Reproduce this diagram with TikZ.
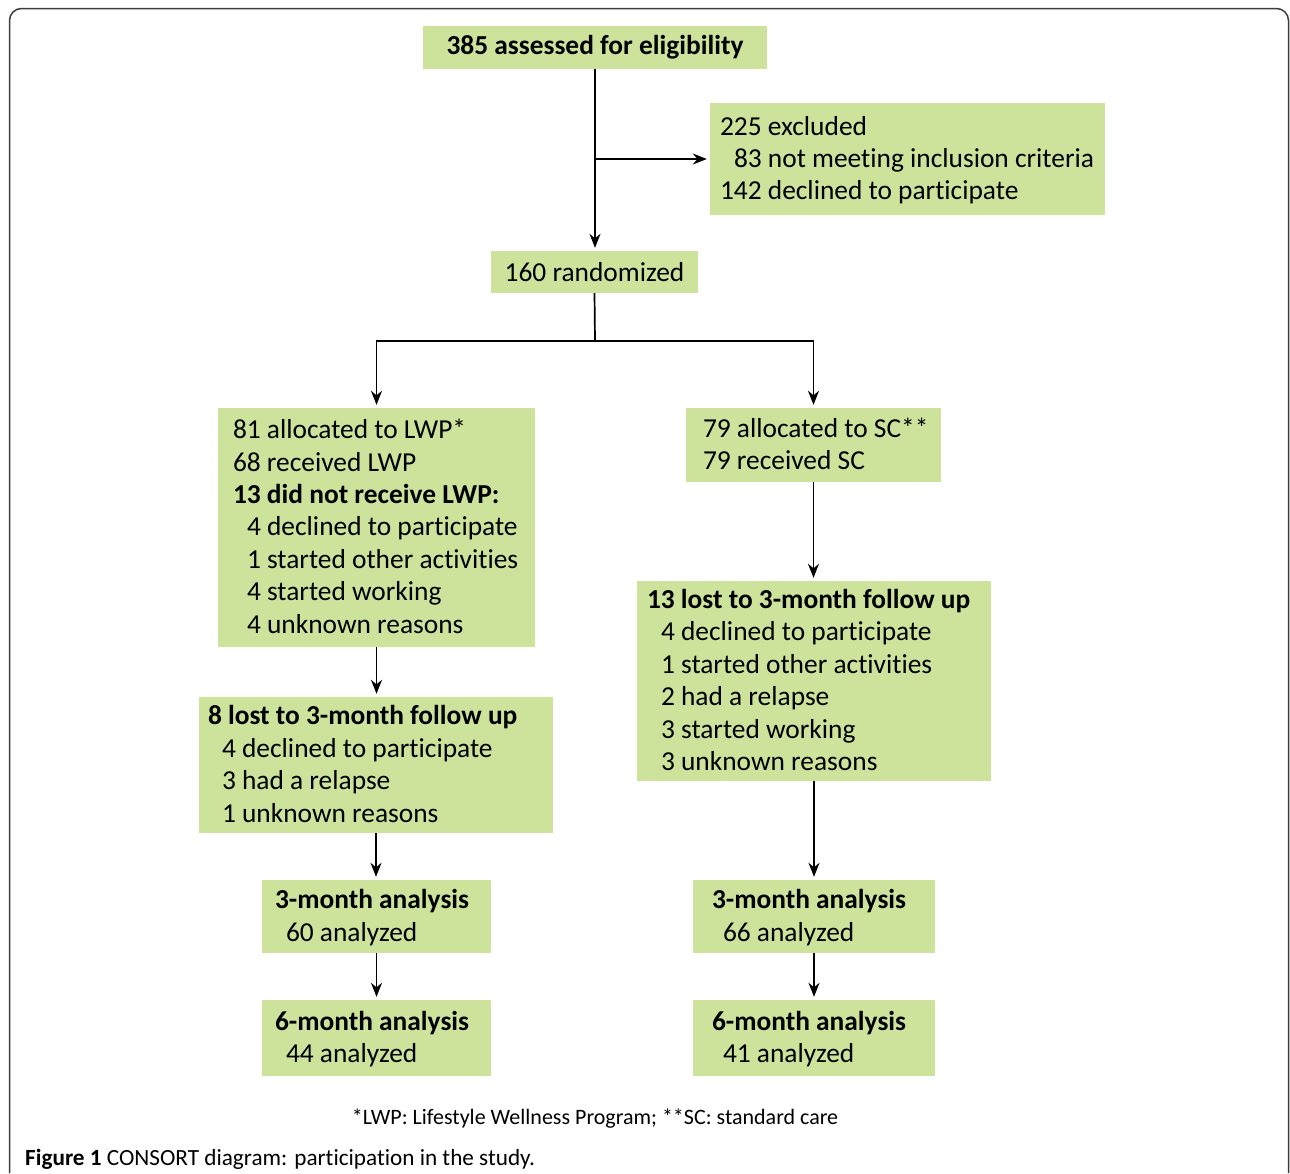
\documentclass[tikz,border=0pt]{standalone}
\usepackage{fontspec}
\setmainfont[Ligatures=NoCommon]{Carlito}
\usetikzlibrary{arrows.meta}
\definecolor{boxgreen}{RGB}{205,226,155}
\definecolor{framegray}{RGB}{60,60,60}
\newcommand{\ind}{\hspace*{14pt}}
% #1 left padding, #2 box width, #3 lines
\newcommand{\boxtext}[3]{\makebox[#2pt][l]{\hspace*{#1pt}\raisebox{0pt}[\dimexpr\height+4pt\relax][\depth]{\begin{tabular}{@{}l@{}}#3\end{tabular}}}}
\tikzset{
  box/.style={fill=boxgreen, inner sep=0pt, anchor=center,
    font=\fontsize{27.4}{32.4}\selectfont},
  arr/.style={line width=1.7pt, -{Stealth[length=14pt,width=11pt]}, shorten >=3pt},
  ln/.style={line width=1.7pt},
}
\begin{document}
\begin{tikzpicture}[x=1pt,y=-1pt]
\useasboundingbox (0,0) rectangle (1290,1173);
\draw[framegray, line width=1.5pt, rounded corners=12pt] (9.5,1173) -- (9.5,8.5) -- (1288.5,8.5) -- (1288.5,1173);

\node[box, minimum width=344pt, minimum height=43pt] (assess) at (595,47.5) {\bfseries 385 assessed for eligibility};
\node[box, minimum height=112pt] (excl) at (907.5,159) {\boxtext{10}{395}{225 excluded\\\ind 83 not meeting inclusion criteria\\142 declined to participate}};
\node[box, minimum width=207pt, minimum height=42pt] (rand) at (594.5,272) {160 randomized};
\node[box, minimum height=239pt] (lwp) at (376.5,527.5) {\boxtext{15}{317}{81 allocated to LWP*\\68 received LWP\\\textbf{13 did not receive LWP:}\\\ind 4 declined to participate\\\ind 1 started other activities\\\ind 4 started working\\\ind 4 unknown reasons}};
\node[box, minimum height=74pt] (sc) at (813.5,445) {\boxtext{17}{255}{79 allocated to SC**\\79 received SC}};
\node[box, minimum height=136pt] (lostL) at (376,765) {\boxtext{9}{354}{\textbf{8 lost to 3-month follow up}\\\ind 4 declined to participate\\\ind 3 had a relapse\\\ind 1 unknown reasons}};
\node[box, minimum height=200pt] (lostR) at (814,681) {\boxtext{10}{354}{\textbf{13 lost to 3-month follow up}\\\ind 4 declined to participate\\\ind 1 started other activities\\\ind 2 had a relapse\\\ind 3 started working\\\ind 3 unknown reasons}};
\node[box, minimum height=73pt] (l3) at (376.5,916.5) {\boxtext{13}{229}{\textbf{3-month analysis}\\\hspace*{11pt}60 analyzed}};
\node[box, minimum height=76pt] (l6) at (376.5,1038) {\boxtext{13}{229}{\textbf{6-month analysis}\\\hspace*{11pt}44 analyzed}};
\node[box, minimum height=73pt] (r3) at (814,916.5) {\boxtext{19}{242}{\textbf{3-month analysis}\\\hspace*{11pt}66 analyzed}};
\node[box, minimum height=76pt] (r6) at (814,1038) {\boxtext{19}{242}{\textbf{6-month analysis}\\\hspace*{11pt}41 analyzed}};

\draw[arr] (assess.south) -- (assess.south |- rand.north);
\draw[arr] (assess.south |- excl.west) -- (excl.west);
\coordinate (split) at (595,341);
\draw[ln] (rand.south) -- (split);
\draw[arr] (split) -| (lwp.north);
\draw[arr] (split) -| (sc.north);
\draw[arr] (lwp.south) -- (lwp.south |- lostL.north);
\draw[arr] (lostL.south) -- (lostL.south |- l3.north);
\draw[arr] (l3.south) -- (l6.north);
\draw[arr] (sc.south) -- (sc.south |- lostR.north);
\draw[arr] (lostR.south) -- (r3.north);
\draw[arr] (r3.south) -- (r6.north);

\node[font=\fontsize{22}{26}\selectfont, anchor=center] (foot) at (595,1119) {*LWP: Lifestyle Wellness Program; **SC: standard care};
\node[font=\fontsize{23.2}{27}\selectfont, anchor=base west, inner sep=0pt] (cap) at (25,1165) {\textbf{Figure 1} CONSORT diagram: participation in the study.};
\end{tikzpicture}
\end{document}
